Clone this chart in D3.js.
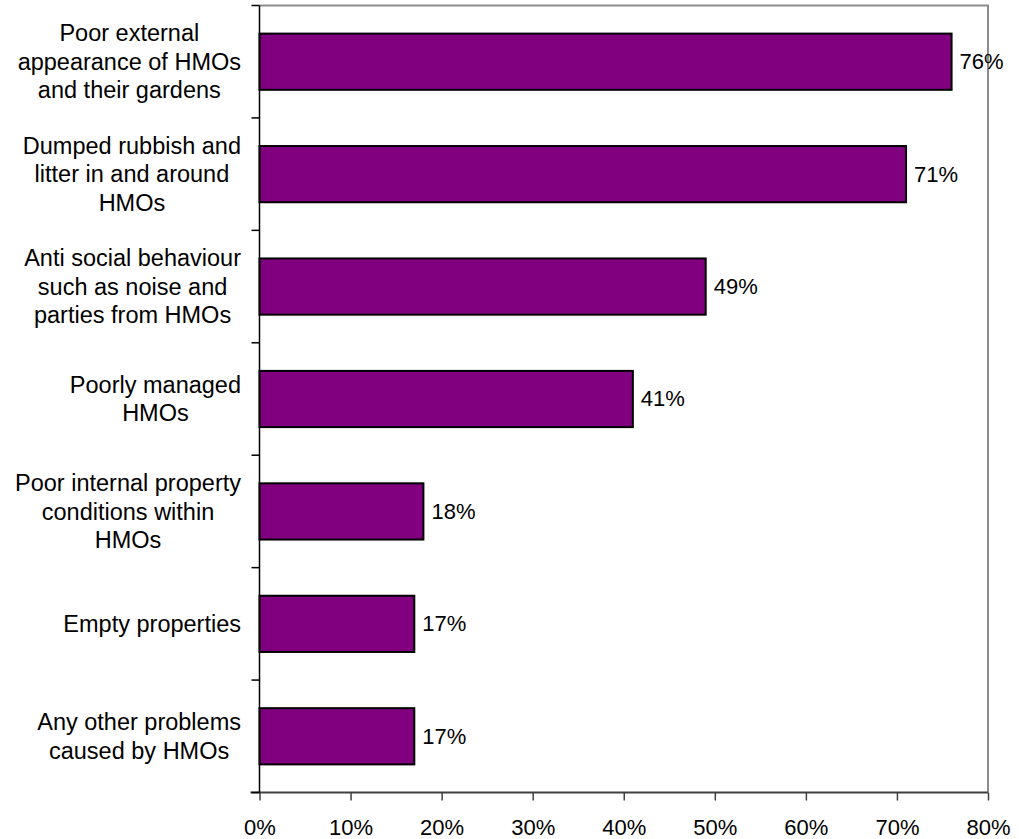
<!DOCTYPE html>
<html>
<head>
<meta charset="utf-8">
<script src="https://cdn.jsdelivr.net/npm/d3@7"></script>
<style>
  html, body { margin: 0; padding: 0; background: #fff; }
  svg { display: block; font-family: "Liberation Sans", Arial, sans-serif; }
</style>
</head>
<body>
<svg id="chart" width="1019" height="839"></svg>
<script>
const categories = [
  ["Poor external", "appearance of HMOs", "and their gardens"],
  ["Dumped rubbish and", "litter in and around", "HMOs"],
  ["Anti social behaviour", "such as noise and", "parties from HMOs"],
  ["Poorly managed", "HMOs"],
  ["Poor internal property", "conditions within", "HMOs"],
  ["Empty properties"],
  ["Any other problems", "caused by HMOs"]
];
const values = [0.76, 0.71, 0.49, 0.41, 0.18, 0.17, 0.17];
const xTicks = [0, 0.1, 0.2, 0.3, 0.4, 0.5, 0.6, 0.7, 0.8];

const svg = d3.select("#chart");
const L = 259.5, R = 988, T = 5.5, B = 792.5;

const keys = categories.map((c, i) => i);
const x = d3.scaleLinear().domain([0, 0.8]).range([L, R]);
const y = d3.scaleBand().domain(keys).range([T, B]).paddingInner(0.5).paddingOuter(0.25);

// top & right border (gray)
svg.append("path")
  .attr("d", `M${L},${T}H${R}V${B}`)
  .attr("fill", "none").attr("stroke", "#8c8c8c").attr("stroke-width", 2);

// bars
svg.append("g").selectAll("rect").data(values).join("rect")
  .attr("x", x(0))
  .attr("y", (d, i) => y(i))
  .attr("width", d => x(d) - x(0))
  .attr("height", y.bandwidth())
  .attr("fill", "#800080")
  .attr("stroke", "#000")
  .attr("stroke-width", 2);

// value labels
svg.append("g").selectAll("text").data(values).join("text")
  .attr("x", d => x(d) + 8)
  .attr("y", (d, i) => y(i) + y.bandwidth() / 2)
  .attr("dy", "0.34em")
  .attr("font-size", 22)
  .attr("fill", "#000")
  .text(d => d3.format(".0%")(d));

// x axis
const xAxis = d3.axisBottom(x).tickValues(xTicks).tickFormat(d3.format(".0%")).tickSize(8).tickPadding(19);
const gx = svg.append("g").attr("transform", `translate(0,${B})`).call(xAxis);
gx.attr("font-family", null).attr("font-size", null);
gx.select(".domain").attr("stroke", "#404040").attr("stroke-width", 2).attr("d", `M${L - 9},0H${R}`);
gx.selectAll(".tick line").attr("stroke", "#404040").attr("stroke-width", 1.5);
gx.selectAll(".tick text").attr("font-size", 22).attr("fill", "#000");

// y axis line and ticks at band boundaries
const step = y.step();
const y0 = y(0) - y.paddingOuter() * step;
const gy = svg.append("g");
gy.append("line").attr("x1", L).attr("x2", L).attr("y1", T).attr("y2", B)
  .attr("stroke", "#000").attr("stroke-width", 1.5);
gy.selectAll("line.tk").data(d3.range(keys.length + 1)).join("line")
  .attr("class", "tk")
  .attr("x1", L - 8).attr("x2", L)
  .attr("y1", i => y0 + i * step).attr("y2", i => y0 + i * step)
  .attr("stroke", "#000").attr("stroke-width", 1.5);

// category labels: lines centered within a right-aligned block
const lineH = 28.5;
const labelRight = 241;
const gl = svg.append("g");
categories.forEach((lines, i) => {
  const cy = y(i) + y.bandwidth() / 2;
  const t = gl.append("text").attr("font-size", 23.5).attr("fill", "#000").attr("text-anchor", "middle");
  const spans = lines.map((ln, j) => t.append("tspan")
    .attr("y", cy + (j - (lines.length - 1) / 2) * lineH)
    .attr("dy", "0.35em")
    .text(ln));
  const maxW = d3.max(spans, s => s.node().getComputedTextLength());
  spans.forEach(s => s.attr("x", labelRight - maxW / 2));
});
</script>
</body>
</html>
